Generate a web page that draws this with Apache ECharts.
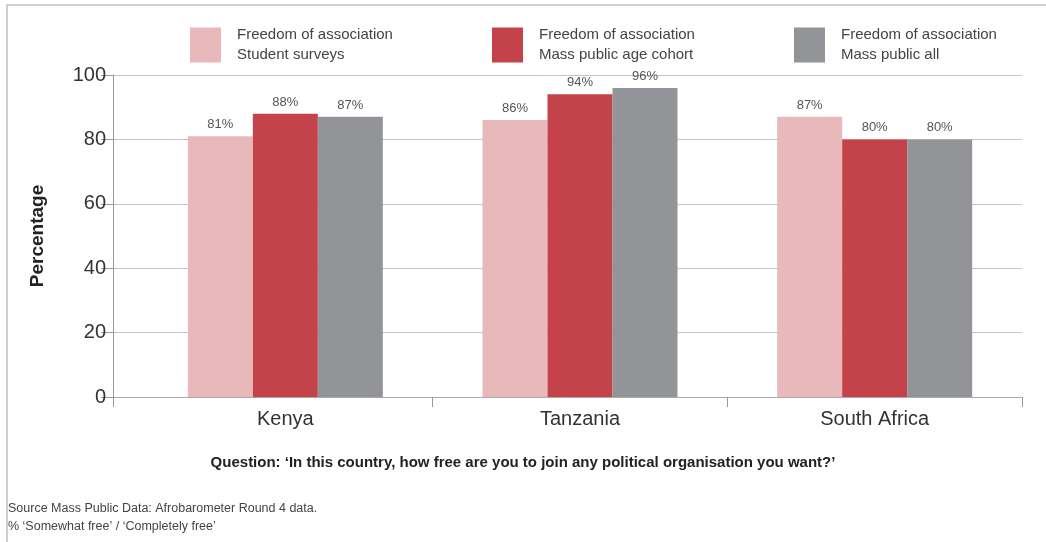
<!DOCTYPE html>
<html>
<head>
<meta charset="utf-8">
<script src="https://cdn.jsdelivr.net/npm/echarts@6/dist/echarts.min.js"></script>
<style>
body { margin: 0; background: #fff; }
#wrap { position: relative; width: 1046px; height: 542px; }
#chart { width: 1046px; height: 542px; }
#frame {
  position: absolute; left: 6px; top: 4px; right: 0; bottom: 0;
  border-left: 2px solid #cfcfcf; border-top: 2px solid #cfcfcf;
  pointer-events: none;
}
</style>
</head>
<body>
<div id="wrap">
  <div id="chart"></div>
  <div id="frame"></div>
</div>
<script>
const countries = ["Kenya", "Tanzania", "South Africa"];
const studentSurveys = [81, 86, 87];
const ageCohort = [88, 94, 80];
const publicAll = [87, 96, 80];
const yTicks = [0, 20, 40, 60, 80, 100];

const seriesNames = [
  "Freedom of association\nStudent surveys",
  "Freedom of association\nMass public age cohort",
  "Freedom of association\nMass public all"
];
const colors = ["#e8b8bb", "#c4424a", "#939497"];
const font = "'Liberation Sans', Arial, sans-serif";

const chart = echarts.init(document.getElementById("chart"));

function makeLegend(i, left) {
  return {
    left: left,
    top: 25,
    padding: 0,
    orient: "horizontal",
    icon: "rect",
    itemWidth: 31,
    itemHeight: 35,
    data: [seriesNames[i]],
    selectedMode: false,
    textStyle: {
      fontFamily: font,
      fontSize: 15,
      lineHeight: 20,
      color: "#444",
      padding: [0, 0, 0, 11]
    }
  };
}

function makeBar(i, values) {
  return {
    name: seriesNames[i],
    type: "bar",
    xAxisIndex: 1,
    yAxisIndex: 1,
    data: values,
    barWidth: 65,
    barGap: "0%",
    itemStyle: { color: colors[i] },
    label: {
      show: true,
      position: "top",
      distance: 5,
      formatter: "{c}%",
      fontFamily: font,
      fontSize: 13,
      color: "#555"
    }
  };
}

const option = {
  animation: false,
  textStyle: { fontFamily: font },
  legend: [makeLegend(0, 190), makeLegend(1, 492), makeLegend(2, 794)],
  grid: [
    { left: 113, right: 24, top: 75, bottom: 145 },
    { left: 138, right: 24, top: 75, bottom: 145 }
  ],
  xAxis: [
    {
      gridIndex: 0,
      type: "category",
      data: countries,
      axisLine: { show: true, lineStyle: { color: "#aaa", width: 1 } },
      axisTick: {
        show: true,
        length: 10,
        interval: function (i) { return i === 0; },
        lineStyle: { color: "#999" }
      },
      axisLabel: { show: false },
      splitLine: { show: false }
    },
    {
      gridIndex: 1,
      type: "category",
      data: countries,
      axisLine: { show: false },
      axisTick: {
        show: true,
        length: 10,
        interval: function (i) { return i > 0; },
        lineStyle: { color: "#999" }
      },
      axisLabel: {
        margin: 12,
        fontFamily: font,
        fontSize: 20,
        color: "#333"
      }
    }
  ],
  yAxis: [
    {
      gridIndex: 0,
      type: "value",
      min: 0,
      max: 100,
      interval: 20,
      name: "Percentage",
      nameLocation: "middle",
      nameGap: 66,
      nameTextStyle: {
        fontFamily: font,
        fontSize: 19,
        fontWeight: "bold",
        color: "#222"
      },
      axisLine: { show: true, lineStyle: { color: "#999", width: 1 } },
      axisTick: { show: true, length: 12, lineStyle: { color: "#999" } },
      axisLabel: {
        margin: 7,
        fontFamily: font,
        fontSize: 20,
        color: "#333",
        formatter: function (v) { return yTicks.indexOf(v) >= 0 ? String(v) : ""; }
      },
      splitLine: { show: true, lineStyle: { color: "#c4c4c4", width: 1 } }
    },
    {
      gridIndex: 1,
      type: "value",
      min: 0,
      max: 100,
      show: false,
      splitLine: { show: false }
    }
  ],
  series: [
    makeBar(0, studentSurveys),
    makeBar(1, ageCohort),
    makeBar(2, publicAll)
  ],
  graphic: [
    {
      type: "text",
      left: "center",
      top: 455,
      style: {
        text: "Question: \u2018In this country, how free are you to join any political organisation you want?\u2019",
        font: "bold 15px " + font,
        fill: "#222"
      }
    },
    {
      type: "text",
      left: 8,
      top: 500,
      style: {
        text: "Source Mass Public Data: Afrobarometer Round 4 data.\n% \u2018Somewhat free\u2019 / \u2018Completely free\u2019",
        font: "12.5px " + font,
        lineHeight: 18,
        fill: "#444"
      }
    }
  ]
};

chart.setOption(option);
</script>
</body>
</html>
